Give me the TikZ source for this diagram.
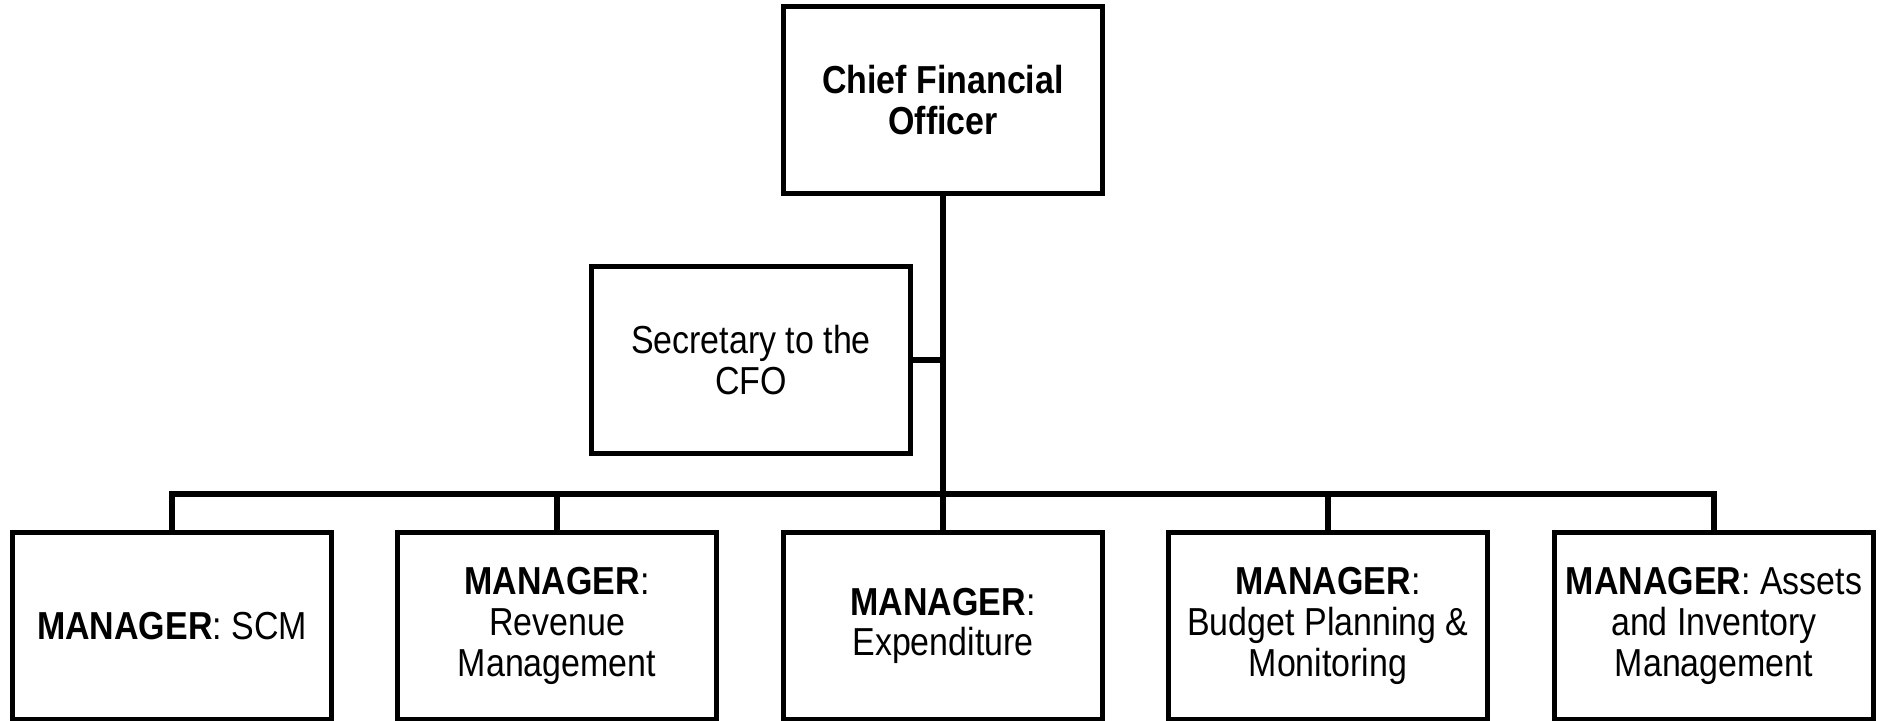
\documentclass[tikz,border=0pt]{standalone}
\usepackage{fontspec}
\setmainfont{Liberation Sans}[FakeStretch=0.87]
\usepackage{tikz}
\tikzset{
	post/.style={draw, line width=1.4pt, minimum width=3.18cm, minimum height=1.86cm,
		inner sep=0pt, outer sep=0pt, align=center, font=\fontsize{11.1}{11.6}\selectfont},
	link/.style={line width=1.7pt}
}

\begin{document}
\begin{tikzpicture}[x=0.01cm, y=-0.01cm]
			%%%%% START %%%%%
			
			\useasboundingbox (0, 0) rectangle (1887, 721);
			
			\node[post] (cfo) at (943, 100) {\textbf{Chief Financial}\\\textbf{Officer}};
			\node[post] (sec) at (751, 360) {Secretary to the\\CFO};
			
			\node[post] (scm) at (172, 626) {\textbf{MANAGER}: SCM};
			\node[post] (rev) at (557, 626) {\textbf{MANAGER}:\\Revenue\\Management};
			\node[post] (exp) at (943, 626) {\textbf{MANAGER}:\\Expenditure};
			\node[post] (bud) at (1328, 626) {\textbf{MANAGER}:\\Budget Planning \&\\Monitoring};
			\node[post] (aim) at (1714, 626) {\textbf{MANAGER}: Assets\\and Inventory\\Management};
			
			\coordinate (bus) at (943, 494);
			
			\draw[link] (cfo.south) -- (exp.north);
			\draw[link] (sec.east) -- (sec.east -| cfo.south);
			\draw[link] (scm.north) |- (bus) -| (aim.north);
			\draw[link] (rev.north) -- (rev.north |- bus);
			\draw[link] (bud.north) -- (bud.north |- bus);
			
			%%%%% END %%%%%
		\end{tikzpicture}
\end{document}
